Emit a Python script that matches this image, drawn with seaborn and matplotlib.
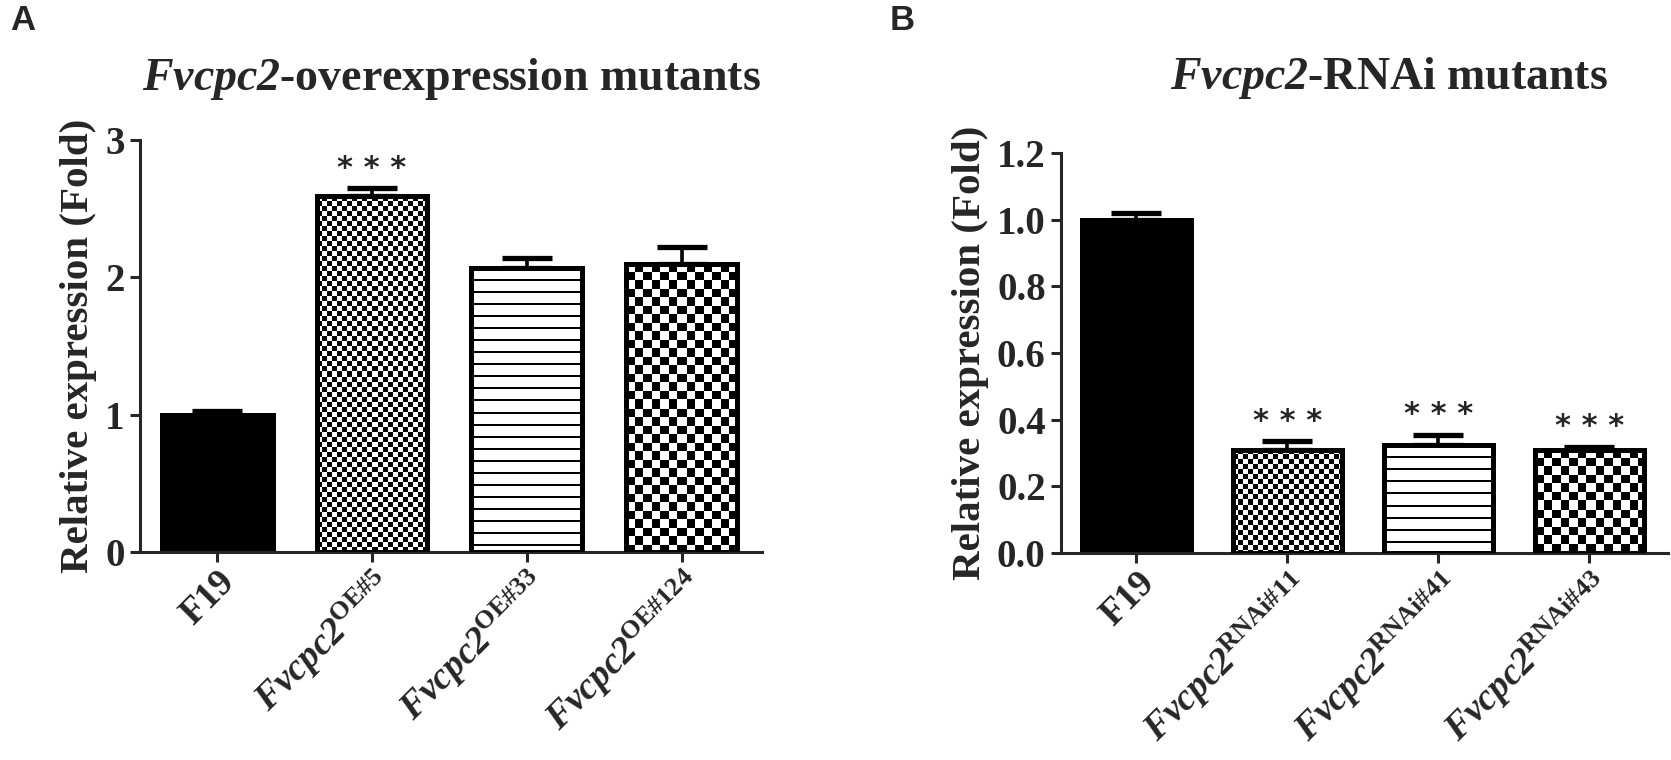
import numpy as np
import seaborn as sns
import matplotlib.pyplot as plt

# panel A: overexpression lines
oe_labels = ["F19", "OE#5", "OE#33", "OE#124"]
oe_means = [1.00, 2.59, 2.07, 2.10]
oe_err = [0.025, 0.06, 0.07, 0.12]
oe_stars = ["", "***", "", ""]

# panel B: RNAi lines
ri_labels = ["F19", "RNAi#11", "RNAi#41", "RNAi#43"]
ri_means = [1.00, 0.31, 0.325, 0.31]
ri_err = [0.02, 0.025, 0.03, 0.008]
ri_stars = ["", "***", "***", "***"]

fills = ["solid", "fine", "lines", "coarse"]

sns.set_style("ticks")
plt.rcParams["font.family"] = ["Liberation Serif", "DejaVu Serif"]
plt.rcParams["font.weight"] = "bold"
plt.rcParams["mathtext.fontset"] = "custom"
plt.rcParams["mathtext.rm"] = "Liberation Serif:bold"
plt.rcParams["mathtext.bf"] = "Liberation Serif:bold"
plt.rcParams["mathtext.it"] = "Liberation Serif:italic:bold"
# sf slot used for the italic gene name so the digit is italic too
plt.rcParams["mathtext.sf"] = "Liberation Serif:italic:bold"


def tick_text(lab):
    if lab == "F19":
        return "F19"
    return r"$\mathsf{Fvcpc2}^{\mathrm{" + lab.replace("#", r"\#") + "}}$"


def pattern(kind, w, h):
    jj, ii = np.meshgrid(np.arange(w), np.arange(h))
    if kind == "fine":
        return ((ii // 5 + jj // 5) % 2).astype(float)
    if kind == "coarse":
        return ((np.floor(ii / 8.5) + np.floor(jj / 8.5)) % 2).astype(float)
    if kind == "lines":
        return ((ii % 12) < 2).astype(float)
    return np.ones((h, w))


def panel(ax, labels, means, errs, stars, ymax, yticks, fmt, title, title_pad, title_x):
    names = [tick_text(l) for l in labels]
    pal = {n: ("black" if f == "solid" else "white") for n, f in zip(names, fills)}
    sns.barplot(x=names, y=means, hue=names, palette=pal, legend=False,
                edgecolor="black", linewidth=3.6, width=0.716,
                saturation=1, errorbar=None, ax=ax)
    ax.set_xlim(-0.5, 3.52)
    ax.set_ylim(0, ymax)
    pos = np.arange(len(means))
    ax.errorbar(pos, means, yerr=[np.zeros(len(errs)), errs], fmt="none",
                ecolor="black", elinewidth=2.6, capsize=18, capthick=3.8, zorder=1)

    # fill patterns drawn as clipped images under the bar outlines
    for p, kind in zip(ax.patches, fills):
        if kind == "solid":
            continue
        bb = p.get_window_extent()
        arr = pattern(kind, int(bb.width), int(bb.height))
        x0, y0 = p.get_x(), p.get_y()
        im = ax.imshow(arr, cmap="gray_r", vmin=0, vmax=1, interpolation="nearest",
                       extent=(x0, x0 + p.get_width(), y0, y0 + p.get_height()),
                       aspect="auto", zorder=2)
        im.set_clip_path(p)
        p.set_facecolor("none")
        p.set_zorder(3)
    ax.set_xlim(-0.5, 3.52)
    ax.set_ylim(0, ymax)

    for i, s in enumerate(stars):
        if s:
            ax.annotate("* * *", (i, means[i] + errs[i]), xytext=(0, 4),
                        textcoords="offset points", ha="center", va="bottom",
                        fontsize=22, family="DejaVu Sans", fontweight="bold")

    ax.set_yticks(yticks)
    ax.set_yticklabels([fmt.format(t) for t in yticks])
    ax.set_ylabel("Relative expression (Fold)", fontsize=29.5, fontweight="bold", labelpad=6)
    ax.set_title(title, fontsize=33, fontweight="bold", pad=title_pad, x=title_x)
    ax.tick_params(axis="y", labelsize=28, length=7, width=2.2, pad=4)
    ax.tick_params(axis="x", labelsize=27, length=7, width=2.2, pad=2)
    for lab in ax.get_xticklabels():
        lab.set_rotation(45)
        lab.set_ha("right")
        lab.set_rotation_mode("anchor")
    sns.despine(ax=ax)
    for sp in ["left", "bottom"]:
        ax.spines[sp].set_linewidth(2.2)
    ax.set_xlabel("")


fig = plt.figure(figsize=(16.71, 7.6), dpi=100)
axA = fig.add_axes([140 / 1671, 208 / 760, 622 / 1671, 412 / 760])
axB = fig.add_axes([1061 / 1671, 207 / 760, 607 / 1671, 400 / 760])

panel(axA, oe_labels, oe_means, oe_err, oe_stars, 3, [0, 1, 2, 3], "{:.0f}",
      r"$\mathsf{Fvcpc2}$-overexpression mutants", 36, 0.5)
panel(axB, ri_labels, ri_means, ri_err, ri_stars, 1.2,
      [0, 0.2, 0.4, 0.6, 0.8, 1.0, 1.2], "{:.1f}",
      r"$\mathsf{Fvcpc2}$-RNAi mutants", 46, 0.54)

fig.text(10 / 1671, 1 - 4 / 760, "A", fontsize=25, fontweight="bold",
         family="Liberation Sans", va="top")
fig.text(890 / 1671, 1 - 4 / 760, "B", fontsize=25, fontweight="bold",
         family="Liberation Sans", va="top")

fig.savefig("out.png", dpi=100)
